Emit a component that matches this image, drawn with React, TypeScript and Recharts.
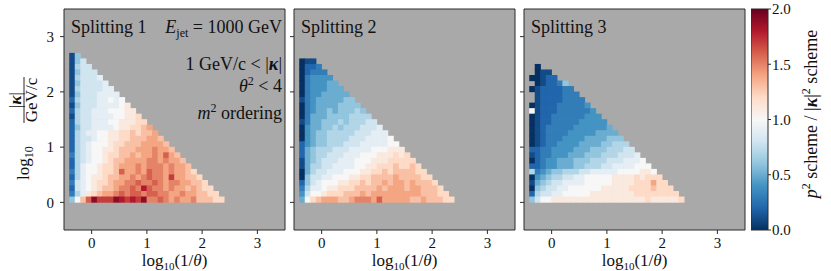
import React from 'react';
import { ScatterChart, Scatter, XAxis, YAxis, CartesianGrid, ReferenceArea, BarChart, Bar } from 'recharts';

// ---------- data ----------
// Each string is one row of 0.1 x 0.1 bins (top row first). Row j (from bottom) holds
// columns i = 0 .. 27-j, starting at log10(1/theta) = -0.4. Characters encode the ratio:
// '0'..'9' -> 0.0..0.9, 'A'..'K' -> 1.0..2.0, '.' -> empty bin.
const LEVELS = '0123456789ABCDEFGHIJK';
const BIN = 0.1;
const X_BIN_START = -0.4;
const Y_BIN_START = 0.0;

const SPLITTING_1: string[] = [
  '16',
  '168',
  '1788',
  '16888',
  '178889',
  '1688889',
  '17888899',
  '168889999',
  '2788899A9A',
  '168889999AB',
  '2788999AAABB',
  '17889999AABBC',
  '2788999AABBBCC',
  '26889999ABBCCDE',
  '27899AABBCCDCDDE',
  '27889AABBCCDDDEED',
  '2789AAABCCDDDEEEED',
  '2789AABBCDDDEEEFEED',
  '3789AABCCDDEDEEFEGED',
  '2789AABCDDEEEEFFEFEED',
  '279AABCCDEEEFEFFFEFEED',
  '379AABCCDGEEFEGFFEFEEDC',
  '279ABBCDDEEFEFGFFEHEEDDC',
  '389ABCCDEEFFGFFGFEFFEEDDC',
  '289ABCDDEFFGFIGFFEFEEDEDCC',
  '379BCDEEFGFGGFGGFFEEFEEDDCC',
  '6ADGJHHHJIHIHJFFGFEFEEFDDDCC',
];

const SPLITTING_2: string[] = [
  '..',
  '011',
  '0223',
  '02333',
  '034444',
  '0344455',
  '03444555',
  '034455555',
  '1345555566',
  '03455556666',
  '034556566676',
  '0355566667777',
  '13556667677788',
  '045566767778889',
  '0456677777888999',
  '0456677778889999A',
  '2456677788899999AA',
  '2567778889999AAABBB',
  '25677888999AAABBBCBC',
  '1567888999AAABBBCCCCC',
  '1577889999AABBCCCDCCDC',
  '05788999AAABBCCDCDDDDCC',
  '068899AAABBCCDDDDEDDDDCC',
  '2689AAABBCCDCDDEDEEDEDDDC',
  '3799ABBCCCDDDDEDEEEDEEDDDC',
  '48AABCCCDDDEDEEEEEEEEEDDDCC',
  '5ACDEEEDDEFFFEGEEEEEDDEDDDCC',
];

const SPLITTING_3: string[] = [
  '..',
  '...',
  '.0..',
  '.011.',
  '00122.',
  '.012236',
  '01222233',
  '.12222333',
  '.122223333',
  '01222333334',
  'A12223333334',
  '0122333333444',
  '01223333344444',
  '012333334444445',
  '0123333444445555',
  '01233344445555666',
  '012334444555566777',
  '2233444455566677788',
  '12334445556667778889',
  '02344555666777888999A',
  '2234455566777889999AAA',
  '7345667778899999AAAABBA',
  '0456778899AAAAABBBBCBCCC',
  '1567889999AAAAABBBBCCCECC',
  '0678899AAAAAABBBBBCCCCDCCC',
  '278899AAAAABBBBBBBBCCCCCCCC',
  '68AABBBBBBBBBBBBBBBBBCBBBBBC',
];

const PANEL_TITLES = ['Splitting 1', 'Splitting 2', 'Splitting 3'];
const X_TICKS = [0, 1, 2, 3];
const Y_TICKS = [0, 1, 2, 3];
const AXIS_DOMAIN: [number, number] = [-0.5, 3.5];
const CBAR_TICKS = [0, 0.5, 1, 1.5, 2];
const CBAR_DOMAIN: [number, number] = [0, 2];
const CBAR_DATA = [{ name: 'ratio', value: 2 }];

// ---------- style ----------
const FONT = '"Liberation Serif", "DejaVu Serif", serif';
const TEXT = '#111';
const FRAME = '#2a2a2a';
const BG = '#a9a9a9';
const RDBU_R = ['#053061', '#2166ac', '#4393c3', '#92c5de', '#d1e5f0', '#f7f7f7', '#fddbc7', '#f4a582', '#d6604d', '#b2182b', '#67001f'];

const H = 271;
const TOP = 9;
const PLOT = 221;
const BOTTOM = H - TOP - PLOT;
const PANEL_LEFTS = [64, 294, 524];
const CBAR_LEFT = 751;
const CBAR_W = 17;

function hexToRgb(h: string) {
  return [parseInt(h.slice(1, 3), 16), parseInt(h.slice(3, 5), 16), parseInt(h.slice(5, 7), 16)];
}
function colorFor(v: number) {
  const t = Math.max(0, Math.min(0.99999, v / 2)) * (RDBU_R.length - 1);
  const k = Math.floor(t);
  const f = t - k;
  const a = hexToRgb(RDBU_R[k]);
  const b = hexToRgb(RDBU_R[k + 1]);
  const c = a.map((x, n) => Math.round(x + (b[n] - x) * f));
  return `rgb(${c[0]},${c[1]},${c[2]})`;
}

function toCells(rows: string[]) {
  const out: { x: number; y: number; v: number }[] = [];
  const n = rows.length;
  rows.forEach((row, r) => {
    const j = n - 1 - r;
    const maxCols = n + 1 - j;
    for (let i = 0; i < Math.min(row.length, maxCols); i++) {
      const k = LEVELS.indexOf(row[i]);
      if (k < 0) continue;
      out.push({ x: X_BIN_START + (i + 0.5) * BIN, y: Y_BIN_START + (j + 0.5) * BIN, v: k / 10 });
    }
  });
  return out;
}

const CELL = (PLOT * BIN) / (AXIS_DOMAIN[1] - AXIS_DOMAIN[0]);

const CellShape = (props: any) => {
  const { cx, cy, payload } = props;
  if (cx == null || cy == null) return null;
  return (
    <rect
      x={cx - CELL / 2 - 0.3}
      y={cy - CELL / 2 - 0.3}
      width={CELL + 0.6}
      height={CELL + 0.6}
      fill={colorFor(payload.v)}
    />
  );
};

const tickStyle = { fontFamily: FONT, fontSize: 15, fill: TEXT };

function Panel({ index, rows, children }: { index: number; rows: string[]; children?: React.ReactNode }) {
  const yW = index === 0 ? 64 : 8;
  const left = PANEL_LEFTS[index] - yW;
  const width = yW + PLOT + 3;
  const data = toCells(rows);
  return (
    <div style={{ position: 'absolute', left, top: 0 }}>
      <ScatterChart width={width} height={H} margin={{ top: TOP, right: 3, bottom: 0, left: 0 }}>
        <CartesianGrid fill={BG} horizontal={false} vertical={false} />
        <XAxis
          type="number"
          dataKey="x"
          domain={AXIS_DOMAIN}
          ticks={X_TICKS}
          allowDataOverflow
          axisLine={false}
          tickLine={{ stroke: FRAME }}
          tickSize={4}
          tickMargin={3}
          tick={tickStyle}
          height={BOTTOM}
        />
        <YAxis
          type="number"
          dataKey="y"
          domain={AXIS_DOMAIN}
          ticks={Y_TICKS}
          allowDataOverflow
          axisLine={false}
          tickLine={{ stroke: FRAME }}
          tickSize={4}
          tickMargin={6}
          tick={tickStyle}
          tickFormatter={(v: number) => (index === 0 ? String(v) : '')}
          width={yW}
        />
        <Scatter data={data} shape={CellShape} isAnimationActive={false} />
        <ReferenceArea
          x1={AXIS_DOMAIN[0]}
          x2={AXIS_DOMAIN[1]}
          y1={AXIS_DOMAIN[0]}
          y2={AXIS_DOMAIN[1]}
          fill="none"
          stroke={FRAME}
          strokeWidth={1}
          ifOverflow="visible"
        />
        <text x={yW + 7} y={33} fontFamily={FONT} fontSize={18} fill={TEXT}>
          {PANEL_TITLES[index]}
        </text>
        <text x={yW + PLOT / 2} y={266} fontFamily={FONT} fontSize={17} fill={TEXT} textAnchor="middle">
          log<tspan fontSize={11} dy={4}>10</tspan>
          <tspan dy={-4}>(1/</tspan>
          <tspan fontStyle="italic">θ</tspan>
          <tspan>)</tspan>
        </text>
        {children}
      </ScatterChart>
    </div>
  );
}

export default function App() {
  const cbarYW = 831 - CBAR_LEFT - CBAR_W;
  return (
    <div style={{ position: 'absolute', left: 0, top: 0, width: 831, height: H, background: '#fff', fontFamily: FONT }}>
      <Panel index={0} rows={SPLITTING_1}>
        <text x={282} y={33} fontFamily={FONT} fontSize={18} fill={TEXT} textAnchor="end">
          <tspan fontStyle="italic">E</tspan>
          <tspan fontSize={12} dy={4}>jet</tspan>
          <tspan dy={-4}> = 1000 GeV</tspan>
        </text>
        <text x={282} y={70} fontFamily={FONT} fontSize={18} fill={TEXT} textAnchor="end">
          1 GeV/c &lt; |<tspan fontWeight="bold" fontStyle="italic">κ</tspan>|
        </text>
        <text x={282} y={92} fontFamily={FONT} fontSize={18} fill={TEXT} textAnchor="end">
          <tspan fontStyle="italic">θ</tspan>
          <tspan fontSize={12} dy={-7}>2</tspan>
          <tspan dy={7}> &lt; 4</tspan>
        </text>
        <text x={282} y={119} fontFamily={FONT} fontSize={18} fill={TEXT} textAnchor="end">
          <tspan fontStyle="italic">m</tspan>
          <tspan fontSize={12} dy={-7}>2</tspan>
          <tspan dy={7}> ordering</tspan>
        </text>
        <g transform="translate(25,128) rotate(-90)">
          <text x={-52} y={4} fontFamily={FONT} fontSize={17} fill={TEXT}>
            log<tspan fontSize={12} dy={4}>10</tspan>
          </text>
          <text x={28} y={-4} fontFamily={FONT} fontSize={17} fill={TEXT} textAnchor="middle">
            |<tspan fontWeight="bold" fontStyle="italic">κ</tspan>|
          </text>
          <line x1={5} x2={51} y1={-1} y2={-1} stroke={TEXT} strokeWidth={0.9} />
          <text x={28} y={12} fontFamily={FONT} fontSize={17} fill={TEXT} textAnchor="middle">
            GeV/c
          </text>
        </g>
      </Panel>
      <Panel index={1} rows={SPLITTING_2} />
      <Panel index={2} rows={SPLITTING_3} />
      <div style={{ position: 'absolute', left: CBAR_LEFT, top: 0 }}>
        <BarChart
          width={CBAR_W + cbarYW}
          height={H}
          data={CBAR_DATA}
          margin={{ top: TOP, right: 0, bottom: BOTTOM, left: 0 }}
          barCategoryGap={0}
        >
          <defs>
            <linearGradient id="rdbu" x1="0" y1="1" x2="0" y2="0">
              {RDBU_R.map((c, n) => (
                <stop key={n} offset={n / (RDBU_R.length - 1)} stopColor={c} />
              ))}
            </linearGradient>
          </defs>
          <XAxis dataKey="name" hide />
          <YAxis
            orientation="right"
            type="number"
            domain={CBAR_DOMAIN}
            ticks={CBAR_TICKS}
            tickFormatter={(v: number) => v.toFixed(1)}
            axisLine={false}
            tickLine={{ stroke: FRAME }}
            tickSize={3}
            tickMargin={1}
            tick={tickStyle}
            width={cbarYW}
          />
          <Bar dataKey="value" fill="url(#rdbu)" stroke={FRAME} strokeWidth={1} isAnimationActive={false} />
          <text
            x={66}
            y={114}
            transform="rotate(-90 66 114)"
            fontFamily={FONT}
            fontSize={18}
            fill={TEXT}
            textAnchor="middle"
          >
            <tspan fontStyle="italic">p</tspan>
            <tspan fontSize={12} dy={-7}>2</tspan>
            <tspan dy={7}> scheme / |</tspan>
            <tspan fontWeight="bold" fontStyle="italic">κ</tspan>
            <tspan>|</tspan>
            <tspan fontSize={12} dy={-7}>2</tspan>
            <tspan dy={7}> scheme</tspan>
          </text>
        </BarChart>
      </div>
    </div>
  );
}
